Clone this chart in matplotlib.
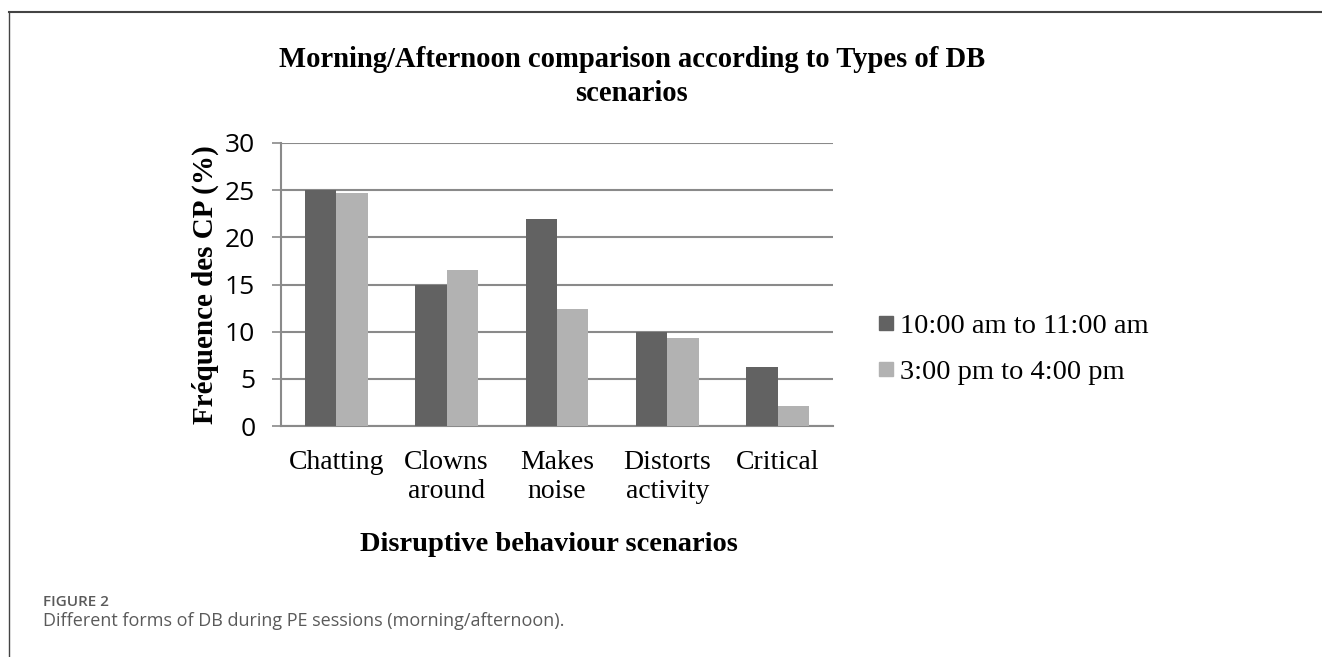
#!/usr/bin/env python
import matplotlib
matplotlib.use('Agg')
import matplotlib.pyplot as plt
from matplotlib.lines import Line2D
import numpy as np

categories = ['Chatting', 'Clowns\naround', 'Makes\nnoise', 'Distorts\nactivity', 'Critical']
morning = [25.0, 15.0, 21.9, 10.0, 6.25]
afternoon = [24.75, 16.5, 12.4, 9.3, 2.1]
series_names = ['10:00 am to 11:00 am', '3:00 pm to 4:00 pm']
yticks = [0, 5, 10, 15, 20, 25, 30]

title = 'Morning/Afternoon comparison according to Types of DB\nscenarios'
xlabel = 'Disruptive behaviour scenarios'
ylabel = 'Fréquence des CP (%)'
fig_label = 'FIGURE 2'
caption = 'Different forms of DB during PE sessions (morning/afternoon).'

dark = '#626262'
light = '#b2b2b2'
grid_c = '#8a8a8a'
serif = ['Liberation Serif', 'DejaVu Serif']

if __name__ == '__main__':
    W, H = 1322, 657
    fig = plt.figure(figsize=(W / 100, H / 100), dpi=100)

    # axes box in pixels: left 281, right 833, top 143, bottom 426
    ax = fig.add_axes([281 / W, 1 - 426 / H, (833 - 281) / W, (426 - 143) / H])

    x = np.arange(len(categories))
    bw = 0.285
    ax.bar(x - bw / 2, morning, bw, color=dark, label=series_names[0], zorder=3)
    ax.bar(x + bw / 2, afternoon, bw, color=light, label=series_names[1], zorder=3)

    ax.set_xlim(-0.5, len(categories) - 0.5)
    ax.set_ylim(0, 30)
    ax.set_yticks(yticks)
    ax.set_yticklabels([str(t) for t in yticks], fontfamily='Open Sans', fontsize=19)
    ax.yaxis.grid(True, color=grid_c, linewidth=1.5, zorder=0)
    ax.tick_params(axis='y', length=6.5, width=1.2, color=grid_c, pad=12)

    ax.set_xticks(x)
    ax.set_xticklabels(categories, fontfamily=serif, fontsize=20, linespacing=1.25)
    ax.tick_params(axis='x', length=0, pad=17)

    for side in ['top', 'right']:
        ax.spines[side].set_visible(False)
    for side in ['left', 'bottom']:
        ax.spines[side].set_color(grid_c)
        ax.spines[side].set_linewidth(1.5)

    ax.set_xlabel(xlabel, fontfamily=serif, fontsize=20.5, fontweight='bold')
    ax.xaxis.set_label_coords((549 - 281) / 552, (426 - 532) / 283)
    ax.set_ylabel(ylabel, fontfamily=serif, fontsize=21, fontweight='bold')
    ax.yaxis.set_label_coords((219 - 281) / 552, 0.5)

    fig.text(632 / W, 1 - 46 / H, title, ha='center', va='top',
             fontfamily=serif, fontsize=20.6, fontweight='bold', linespacing=1.35)

    handles = [Line2D([], [], marker='s', linestyle='none', markersize=10.5,
                      markerfacecolor=c, markeredgecolor=c) for c in (dark, light)]
    fig.legend(handles, series_names, loc='center left',
               bbox_to_anchor=(863 / W, 1 - 349 / H), frameon=False,
               prop={'family': serif, 'size': 20.5}, handlelength=0.6,
               handletextpad=0.2, labelspacing=0.72, borderpad=0)

    # journal figure frame and caption
    fig.add_artist(Line2D([9 / W, 1], [1 - 12 / H, 1 - 12 / H], color='#444444', linewidth=1.5))
    fig.add_artist(Line2D([9 / W, 9 / W], [0, 1 - 12 / H], color='#444444', linewidth=1.0))
    fig.text(43 / W, 1 - 602 / H, fig_label, ha='left', va='center',
             fontfamily='Open Sans', fontsize=11, fontweight='semibold', color='#5a5a5a')
    fig.text(43 / W, 1 - 621 / H, caption, ha='left', va='center',
             fontfamily='Open Sans', fontsize=13, color='#5a5a5a')

    fig.savefig('out.png', dpi=100)
